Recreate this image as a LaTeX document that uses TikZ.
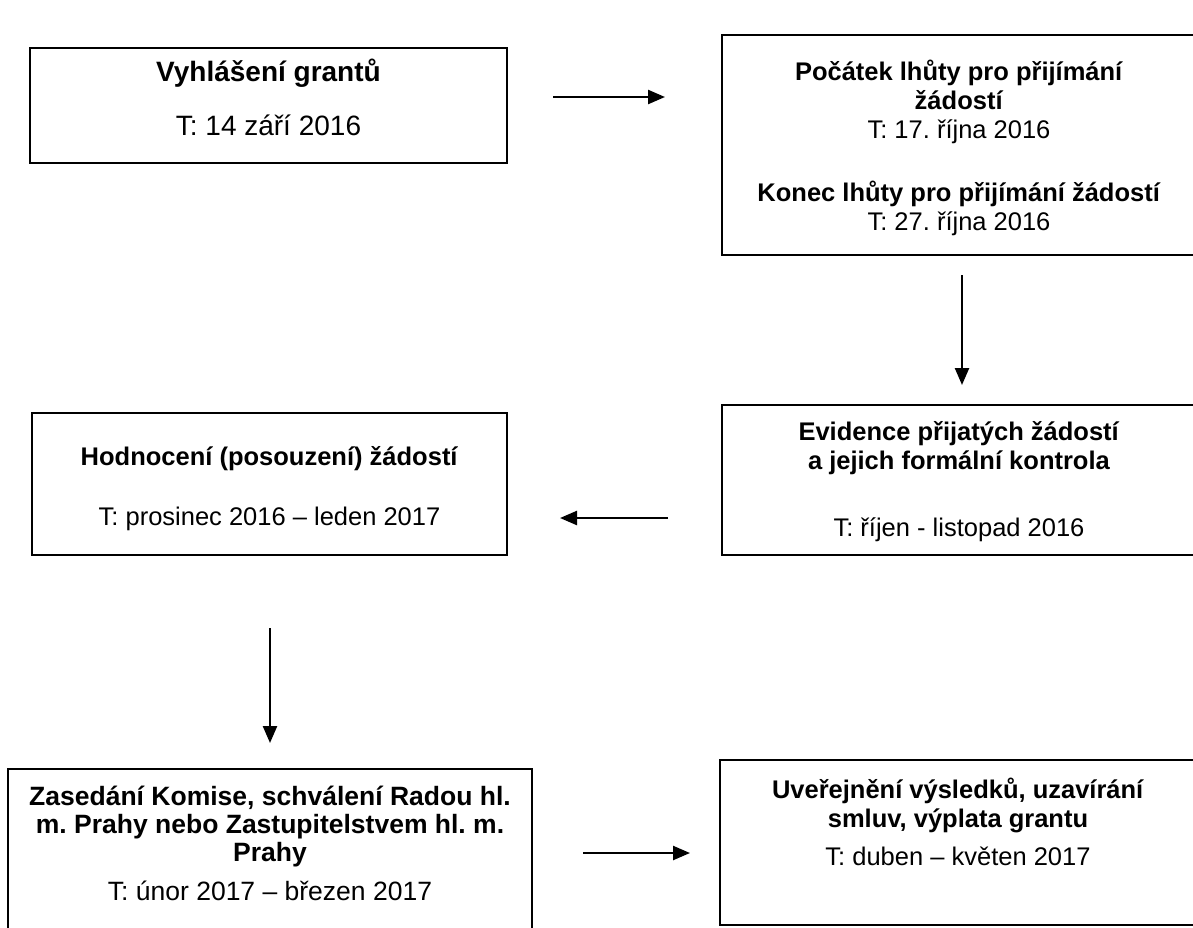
\documentclass[tikz,border=0pt]{standalone}
\usepackage{fontspec}
\setmainfont{Liberation Sans}
\usetikzlibrary{arrows.meta,positioning}
\frenchspacing

\tikzset{
	frame/.style={draw, line width=1.8pt, inner sep=0pt},
	txt/.style={align=center, inner sep=0pt, anchor=north,
		font=\fontsize{25.5}{29}\selectfont},
	arr/.style={line width=2.4pt, -{Triangle[length=17pt,width=14pt]}},
}

\begin{document}
\begin{tikzpicture}[x=1pt, y=-1pt]

	\useasboundingbox (0,0) rectangle (1193,927);

	% arrow end points
	\coordinate (a1s) at (553,97);
	\coordinate (a1e) at (665,97);
	\coordinate (a2s) at (962,275);
	\coordinate (a2e) at (962,385);
	\coordinate (a3s) at (668,518);
	\coordinate (a3e) at (560,518);
	\coordinate (a4s) at (270,628);
	\coordinate (a4e) at (270,743);
	\coordinate (a5s) at (583,853);
	\coordinate (a5e) at (690,853);

	% boxes
	\node[frame, minimum width=477pt, minimum height=115pt] (vyhl) at (268.5,105.5) {};
	\node[frame, minimum width=474pt, minimum height=220pt] (lhuta) at (959,145) {};
	\node[frame, minimum width=474pt, minimum height=150pt] (evid) at (959,480) {};
	\node[frame, minimum width=475pt, minimum height=142pt] (hodn) at (269.5,484) {};
	\node[frame, minimum width=524pt, minimum height=171pt] (zased) at (270,854.5) {};
	\node[frame, minimum width=476pt, minimum height=165pt] (uver) at (958,842.5) {};

	% texts
	\node[txt, font=\fontsize{28}{32}\selectfont, below=12pt of vyhl.north] (vyhl-t)
	{\textbf{Vyhlášení grantů}\\[22pt] T: 14 září 2016};
	\node[txt, below=25.5pt of lhuta.north] (lhuta-t)
	{\textbf{Počátek lhůty pro přijímání}\\ \textbf{žádostí}\\ T: 17. října 2016\\[34pt]
		\textbf{Konec lhůty pro přijímání žádostí}\\ T: 27. října 2016};
	\node[txt, below=17pt of evid.north] (evid-t)
	{\textbf{Evidence přijatých žádostí}\\ \textbf{a jejich formální kontrola}\\[38pt]
		T: říjen - listopad 2016};
	\node[txt, below=34pt of hodn.north] (hodn-t)
	{\textbf{Hodnocení (posouzení) žádostí}\\[31pt] T: prosinec 2016 -- leden 2017};
	\node[txt, font=\fontsize{26.5}{28}\selectfont, below=18pt of zased.north] (zased-t)
	{\textbf{Zasedání Komise, schválení Radou hl.}\\ \textbf{m. Prahy nebo Zastupitelstvem hl. m.}\\
		\textbf{Prahy}\\[11pt] T: únor 2017 -- březen 2017};
	\node[txt, below=18.5pt of uver.north] (uver-t)
	{\textbf{Uveřejnění výsledků, uzavírání}\\ \textbf{smluv, výplata grantu}\\[9pt]
		T: duben -- květen 2017};

	% arrows
	\draw[arr] (a1s) -- (a1e);
	\draw[arr] (a2s) -- (a2e);
	\draw[arr] (a3s) -- (a3e);
	\draw[arr] (a4s) -- (a4e);
	\draw[arr] (a5s) -- (a5e);

\end{tikzpicture}
\end{document}
